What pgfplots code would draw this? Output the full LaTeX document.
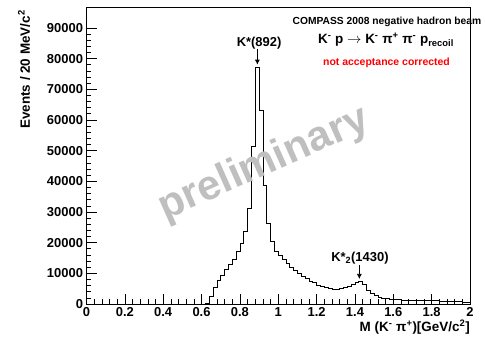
\documentclass[border=0pt]{standalone}
\usepackage{fontspec}
\setmainfont{Liberation Sans}
\usepackage{pgfplots}
\pgfplotsset{compat=1.18}
\usetikzlibrary{arrows.meta}
\begin{document}
\begin{tikzpicture}
\path[use as bounding box] (-86.5bp,-34bp) rectangle (398.5bp,304bp);
\begin{axis}[
  at={(0,0)}, anchor=south west,
  width=383.5bp, height=297bp, scale only axis,
  xmin=0, xmax=2, ymin=0, ymax=96800,
  xtick={0,0.2,0.4,0.6,0.8,1,1.2,1.4,1.6,1.8,2},
  ytick={0,10000,20000,30000,40000,50000,60000,70000,80000,90000},
  minor x tick num=4, minor y tick num=4,
  tick align=inside, xtick pos=left, ytick pos=left,
  major tick length=10bp, minor tick length=5bp,
  scaled ticks=false,
  /pgf/number format/1000 sep={},
  /pgf/number format/assume math mode=true,
  tick label style={font=\bfseries\fontsize{13}{15}\selectfont},
  axis line style={line width=0.6bp},
  every tick/.style={black, line width=0.6bp},
  clip=false,
]
\addplot[const plot mark left, black, line width=0.7bp, mark=none] table {
x y
0.00 0
0.60 0
0.62 300
0.64 2500
0.66 5300
0.68 7800
0.70 9500
0.72 11300
0.74 13000
0.76 14500
0.78 17000
0.80 19800
0.82 23700
0.84 31300
0.86 51500
0.88 77000
0.90 63000
0.92 38600
0.94 26300
0.96 20500
0.98 17000
1.00 15900
1.02 14600
1.04 13200
1.06 12100
1.08 11000
1.10 9900
1.12 9050
1.14 8300
1.16 7500
1.18 6900
1.20 6200
1.22 5700
1.24 5300
1.26 5000
1.28 4800
1.30 4800
1.32 5000
1.34 5300
1.36 5800
1.38 6300
1.40 6900
1.42 7400
1.44 6300
1.46 4500
1.48 3400
1.50 2700
1.52 2200
1.54 1900
1.56 1700
1.58 1550
1.60 1450
1.62 1400
1.64 1350
1.66 1300
1.68 1300
1.70 1250
1.72 1200
1.74 1200
1.76 1150
1.78 1100
1.80 1100
1.82 1050
1.84 1000
1.86 950
1.88 900
1.90 850
1.92 800
1.94 750
1.96 650
1.98 550
2.00 550
};
\node[font=\bfseries\fontsize{42}{42}\selectfont, text=black!25, rotate=24] at (axis cs:0.925,45500) {preliminary};
\node[font=\bfseries\fontsize{13}{15}\selectfont, inner sep=0] at (axis cs:0.90,85100) {K*(892)};
\draw[-{Latex[length=5bp,width=5bp]}, line width=0.7bp] (axis cs:0.891,83100) -- (axis cs:0.891,78000);
\node[font=\bfseries\fontsize{13}{15}\selectfont, inner sep=0] at (axis cs:1.426,15000) {K*\textsubscript{2}(1430)};
\draw[-{Latex[length=5bp,width=5bp]}, line width=0.7bp] (axis cs:1.423,12700) -- (axis cs:1.423,8150);
\end{axis}
\node[font=\bfseries\fontsize{10.3}{12}\selectfont, inner sep=0] at (300.5bp,282bp) {COMPASS 2008 negative hadron beam};
\node[font=\bfseries\fontsize{13.5}{15}\selectfont, inner sep=0] at (299.5bp,264bp) {K\textsuperscript{-} p $\rightarrow$ K\textsuperscript{-} π\textsuperscript{+} π\textsuperscript{-} p\textsubscript{recoil}};
\node[font=\bfseries\fontsize{10.5}{12}\selectfont, text=red, inner sep=0] at (300bp,241bp) {not acceptance corrected};
\node[font=\bfseries\fontsize{13.5}{15}\selectfont, rotate=90, anchor=east, inner sep=0] at (-62.5bp,294bp) {Events / 20 MeV/c\textsuperscript{2}};
\node[font=\bfseries\fontsize{13.5}{15}\selectfont, anchor=east, inner sep=0] at (383.5bp,-23bp) {M (K\textsuperscript{-} π\textsuperscript{+})[GeV/c\textsuperscript{2}]};
\end{tikzpicture}
\end{document}
